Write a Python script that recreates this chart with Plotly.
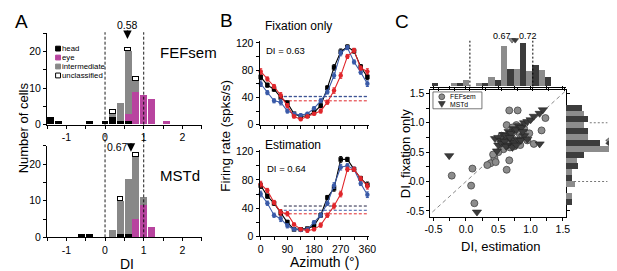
import plotly.graph_objects as go

W, H = 617, 271
FONT = "Liberation Sans, Arial, sans-serif"
MAG = "#b8449f"
GREY = "#888888"
BLUE = "#3a5aa8"
RED = "#e0262b"
LIGHT = "#8c8c8c"
DARK = "#3c3c3c"

# ---------------- Panel A data ----------------
bins = [-1.4, -1.2, -1.0, -0.8, -0.6, -0.4, -0.2, 0.0, 0.2, 0.4, 0.6, 0.8, 1.0, 1.2, 1.4, 1.6]
fef_head = [2, 1, 0, 0, 0, 1, 0, 1, 2, 1, 1, 0, 0, 0, 0, 0]
fef_eye = [0, 0, 0, 0, 0, 0, 0, 0, 0, 0, 2, 9, 8, 7, 0, 1]
fef_inter = [0, 0, 0, 0, 0, 0, 0, 0, 1, 5, 17, 3, 0, 0, 0, 0]
fef_uncl = [0, 0, 0, 0, 0, 0, 0, 0, 1, 0, 1, 1, 0, 0, 0, 0]
mst_head = [0, 0, 0, 0, 1, 1, 0, 0, 0, 1, 1, 0, 0, 0, 0, 0]
mst_eye = [0, 0, 0, 0, 0, 0, 0, 0, 0, 0, 0, 5, 9, 3, 0, 0]
mst_inter = [0, 0, 0, 0, 0, 0, 0, 0, 2, 9, 15, 17, 2, 0, 0, 0]
mst_uncl = [0, 0, 0, 0, 0, 0, 0, 0, 0, 1, 0, 1, 0, 0, 0, 0]
mean_fef_A = 0.58
mean_mst_A = 0.67

# ---------------- Panel B data ----------------
azimuth = [0, 22.5, 45, 67.5, 90, 112.5, 135, 157.5, 180, 202.5, 225, 247.5, 270, 292.5, 315, 337.5, 360]
fix_black = [70, 58, 52, 40, 32, 16, 12, 13, 18, 28, 54, 84, 107, 114, 108, 85, 70]
fix_blue = [60, 47, 35, 33, 20, 16, 14, 16, 24, 35, 48, 72, 105, 113, 92, 77, 60]
fix_red = [78, 67, 56, 43, 28, 12, 8, 12, 16, 20, 33, 50, 72, 100, 109, 83, 78]
est_black = [72, 57, 47, 33, 20, 10, 10, 11, 15, 30, 55, 68, 109, 109, 95, 82, 73]
est_blue = [60, 47, 30, 25, 15, 10, 9, 10, 20, 30, 47, 72, 98, 100, 95, 75, 59]
est_red = [74, 65, 48, 34, 32, 17, 10, 8, 10, 16, 30, 43, 60, 95, 95, 82, 71]
err_b = [4, 3, 3, 4, 3, 2, 2, 2, 2, 3, 3, 4, 4, 3, 3, 3, 4]
fix_base = {"black": 41.5, "blue": 41, "red": 35}
est_base = {"black": 43, "blue": 37, "red": 32}

# ---------------- Panel C data ----------------
fef_est = [0.67, 0.80, 0.63, 0.78, 1.23, 1.17, 1.05, 0.67, 0.63, 0.44, 0.38, 0.46, 0.33, 0.10, -0.22,
           0.08, 0.13, 0.55, 0.60, 0.70, 0.75, 0.85, 0.90, 0.95, 0.58, 0.65, 0.72, 0.80, 0.88, 0.50,
           0.42, 0.98, 0.68, 0.76, 0.84, 0.55]
fef_fix = [1.21, 1.21, 0.96, 0.96, 1.08, 0.87, 0.64, 0.36, 0.20, 0.40, 0.31, 0.33, 0.28, 0.22, 0.10,
           -0.07, -0.37, 0.62, 0.70, 0.80, 0.60, 0.75, 0.90, 0.70, 0.55, 0.65, 0.92, 0.85, 0.78, 0.50,
           0.46, 0.82, 0.58, 0.68, 0.62, 0.78]
mst_est = [-0.26, 0.17, 0.45, 0.50, 0.55, 0.58, 0.62, 0.66, 0.70, 0.74, 0.78, 0.82, 0.86, 0.90, 0.95,
           1.00, 1.05, 1.14, 1.19, 1.14, 0.50, 0.55, 0.60, 0.65, 0.70, 0.75, 0.80, 0.85, 0.90, 0.62,
           0.72, 0.68, 0.78, 0.88, 0.95, 0.48]
mst_fix = [0.44, -0.52, 0.73, 0.75, 0.70, 0.80, 0.78, 0.85, 0.82, 0.90, 0.88, 0.95, 0.92, 1.00, 1.02,
           1.05, 1.11, 1.16, 1.22, 0.64, 0.62, 0.65, 0.68, 0.62, 0.70, 0.66, 0.72, 0.70, 0.78, 0.60,
           0.58, 0.75, 0.62, 0.85, 0.72, 0.52]
top_light_x = [-0.25, -0.05, 0.15, 0.35, 0.55, 0.75, 0.95, 1.15]
top_light_n = [1, 2, 1, 3, 12.5, 5.5, 4.7, 5]
top_dark_x = [-0.55, -0.15, 0.25, 0.45, 0.65, 0.85, 1.05, 1.25]
top_dark_n = [1, 1, 1, 2, 5.5, 13.5, 6.7, 2.8]
right_light_y = [1.15, 0.95, 0.75, 0.55, 0.35, 0.15, -0.05, -0.25]
right_light_n = [5.6, 5.6, 6.6, 13.2, 3.3, 1.8, 2.7, 1.8]
right_dark_y = [1.25, 1.05, 0.85, 0.65, 0.45, 0.25, 0.05, -0.35]
right_dark_n = [4.8, 6.6, 6.6, 10.4, 5.6, 3.6, 1.8, 1.8]
top_means = [0.67, 0.72]
right_means = [0.70, 0.65]


def PX(p):
    return p / W


def PY(p):
    return 1 - p / H


# axis geometry (pixels)
A_X = (33.75, 191.75); A_XR = (-1.5, 2.5)
A1_Y = (117, 22); A2_Y = (234, 139); A_YR = (0, 25)
B_X = (250.8, 362.8); B_XR = (-4, 366)
B1_Y = (117, 29.9); B2_Y = (233, 142.8); B_YR = (0, 123)
C_X = (425.4, 564); C_XR = (-0.55, 1.55); CT_XR = (-0.627, 1.529)
C_Y = (212.6, 81.45); C_YR = (-0.6, 1.55)
CT_Y = (77.5, 27.5); CT_YR = (0, 15)
CR_X = (563.5, 613.5); CR_XR = (0, 15)


def xdom(p):
    return [PX(p[0]), PX(p[1])]


def ydom(p):
    return [PY(p[0]), PY(p[1])]


def mapx(v, pix, rng):
    return PX(pix[0] + (v - rng[0]) / (rng[1] - rng[0]) * (pix[1] - pix[0]))


fig = go.Figure()


def add_A(xa, ya, head, eye, inter, uncl):
    for vals, col in [(head, "black"), (eye, MAG), (inter, GREY)]:
        fig.add_trace(go.Bar(x=bins, y=vals, width=0.18, marker=dict(color=col, line=dict(width=0)),
                             xaxis=xa, yaxis=ya))
    fig.add_trace(go.Bar(x=bins, y=[v if v else None for v in uncl], width=0.15,
                         marker=dict(color="white", line=dict(color="black", width=1.1)),
                         xaxis=xa, yaxis=ya))


add_A("x", "y", fef_head, fef_eye, fef_inter, fef_uncl)
add_A("x2", "y2", mst_head, mst_eye, mst_inter, mst_uncl)


def add_B(xa, ya, series, base):
    for key, col in [("black", "#222244"), ("blue", BLUE), ("red", RED)]:
        fig.add_trace(go.Scatter(x=[78, 360], y=[base[key]] * 2, mode="lines",
                                 line=dict(color=col, width=1, dash="3px,2px"), xaxis=xa, yaxis=ya))
    for vals, col, sym in series:
        fig.add_trace(go.Scatter(x=azimuth, y=vals, mode="lines+markers",
                                 line=dict(color=col, width=1.1),
                                 marker=dict(color=col, size=4.5, symbol=sym),
                                 error_y=dict(type="data", array=err_b, color=col, thickness=1, width=1.5),
                                 xaxis=xa, yaxis=ya, cliponaxis=False))


add_B("x3", "y3", [(fix_black, "black", "square"), (fix_blue, BLUE, "circle"), (fix_red, RED, "circle")], fix_base)
add_B("x4", "y4", [(est_black, "black", "square"), (est_blue, BLUE, "circle"), (est_red, RED, "circle")], est_base)

# Panel C scatter
fig.add_trace(go.Scatter(x=[-0.6, 1.6], y=[-0.6, 1.6], mode="lines",
                         line=dict(color="#888888", width=1, dash="4px,3px"), xaxis="x5", yaxis="y5"))
fig.add_trace(go.Scatter(x=fef_est, y=fef_fix, mode="markers",
                         marker=dict(symbol="circle", size=7, color=LIGHT, line=dict(color="#444444", width=0.8)),
                         xaxis="x5", yaxis="y5"))
fig.add_trace(go.Scatter(x=mst_est, y=mst_fix, mode="markers",
                         marker=dict(symbol="triangle-down", size=8, color=DARK, line=dict(color="#222222", width=0.6)),
                         xaxis="x5", yaxis="y5"))
# top histogram
fig.add_trace(go.Bar(x=top_light_x, y=top_light_n, width=0.1, marker=dict(color=LIGHT, line=dict(width=0)),
                     xaxis="x6", yaxis="y6"))
fig.add_trace(go.Bar(x=top_dark_x, y=top_dark_n, width=0.1, marker=dict(color=DARK, line=dict(width=0)),
                     xaxis="x6", yaxis="y6"))
fig.add_trace(go.Scatter(x=top_means, y=[14.5, 14.5], mode="markers",
                         marker=dict(symbol="triangle-down", size=6, color=[LIGHT, DARK],
                                     line=dict(color="#222", width=0.5)),
                         xaxis="x6", yaxis="y6", cliponaxis=False))
# right histogram
fig.add_trace(go.Bar(y=right_light_y, x=right_light_n, width=0.1, orientation="h",
                     marker=dict(color=LIGHT, line=dict(width=0)), xaxis="x7", yaxis="y7"))
fig.add_trace(go.Bar(y=right_dark_y, x=right_dark_n, width=0.1, orientation="h",
                     marker=dict(color=DARK, line=dict(width=0)), xaxis="x7", yaxis="y7"))
fig.add_trace(go.Scatter(x=[13.2, 13.2], y=right_means, mode="markers",
                         marker=dict(symbol="triangle-left", size=6, color=[LIGHT, DARK],
                                     line=dict(color="#222", width=0.5)),
                         xaxis="x7", yaxis="y7", cliponaxis=False))

tickfont = dict(family=FONT, size=10.5, color="black")
base_ax = dict(showgrid=False, zeroline=False, showline=True, linecolor="black", linewidth=1,
               ticks="outside", ticklen=3, tickwidth=1, tickcolor="black", tickfont=tickfont, fixedrange=True)

halves = [-1.5, -1, -0.5, 0, 0.5, 1, 1.5, 2, 2.5]
halves_txt = ["", "-1", "", "0", "", "1", "", "2", ""]
yA_vals = [0, 5, 10, 15, 20, 25]
yA_txt = ["0", "", "10", "", "20", ""]
az_vals = [0, 45, 90, 135, 180, 225, 270, 315, 360]
az_txt = ["0", "", "90", "", "180", "", "270", "", "360"]
yB_vals = [0, 20, 40, 60, 80, 100, 120]
yB_txt = ["0", "", "40", "", "80", "", "120"]
c_vals = [-0.5, -0.25, 0, 0.25, 0.5, 0.75, 1.0, 1.25, 1.5]
c_txt = ["-0.5", "", "0.0", "", "0.5", "", "1.0", "", "1.5"]

layout = dict(
    width=W, height=H, margin=dict(l=0, r=0, t=0, b=0), paper_bgcolor="white", plot_bgcolor="rgba(0,0,0,0)",
    showlegend=False, barmode="stack", bargap=0, font=dict(family=FONT, color="black"),
    xaxis=dict(base_ax, domain=xdom(A_X), range=A_XR, anchor="y", tickvals=halves, ticktext=halves_txt),
    yaxis=dict(base_ax, domain=ydom(A1_Y), range=A_YR, anchor="x", tickvals=yA_vals, ticktext=yA_txt),
    xaxis2=dict(base_ax, domain=xdom(A_X), range=A_XR, anchor="y2", tickvals=halves, ticktext=halves_txt),
    yaxis2=dict(base_ax, domain=ydom(A2_Y), range=A_YR, anchor="x2", tickvals=yA_vals, ticktext=yA_txt),
    xaxis3=dict(base_ax, domain=xdom(B_X), range=B_XR, anchor="y3", tickvals=az_vals, ticktext=[""] * 9),
    yaxis3=dict(base_ax, domain=ydom(B1_Y), range=B_YR, anchor="x3", tickvals=yB_vals, ticktext=yB_txt),
    xaxis4=dict(base_ax, domain=xdom(B_X), range=B_XR, anchor="y4", tickvals=az_vals, ticktext=az_txt),
    yaxis4=dict(base_ax, domain=ydom(B2_Y), range=B_YR, anchor="x4", tickvals=yB_vals, ticktext=yB_txt),
    xaxis5=dict(base_ax, domain=xdom(C_X), range=C_XR, anchor="y5", tickvals=c_vals, ticktext=c_txt, mirror="ticks"),
    yaxis5=dict(base_ax, domain=ydom(C_Y), range=C_YR, anchor="x5", tickvals=c_vals, ticktext=c_txt, mirror="ticks"),
    xaxis6=dict(base_ax, domain=xdom(C_X), range=CT_XR, anchor="y6", tickvals=c_vals, showticklabels=False),
    yaxis6=dict(domain=ydom(CT_Y), range=CT_YR, anchor="x6", visible=False, fixedrange=True),
    xaxis7=dict(domain=xdom(CR_X), range=CR_XR, anchor="y7", visible=False, fixedrange=True),
    yaxis7=dict(domain=ydom(C_Y), range=C_YR, anchor="x7", visible=False, fixedrange=True),
)
fig.update_layout(**layout)

shapes = []
# Panel A dashed lines at DI = 0 and 1
for v in (0, 1):
    xp = mapx(v, A_X, A_XR)
    shapes.append(dict(type="line", xref="paper", yref="paper", x0=xp, x1=xp, y0=PY(117), y1=PY(21),
                       line=dict(color="black", width=0.9, dash="3px,2px")))
    shapes.append(dict(type="line", xref="paper", yref="paper", x0=xp, x1=xp, y0=PY(234), y1=PY(127),
                       line=dict(color="black", width=0.9, dash="3px,2px")))
# Panel C top histogram dotted lines
for v in (0, 1):
    shapes.append(dict(type="line", xref="x6", yref="y6", x0=v, x1=v, y0=0, y1=14.3,
                       line=dict(color="black", width=1, dash="2px,2px")))
# right histogram dotted lines
shapes.append(dict(type="line", xref="x7", yref="y7", x0=7.4, x1=12.8, y0=1.0, y1=1.0,
                   line=dict(color="#777", width=1, dash="2px,2px")))
shapes.append(dict(type="line", xref="x7", yref="y7", x0=2.6, x1=12.8, y0=0.0, y1=0.0,
                   line=dict(color="#777", width=1, dash="2px,2px")))
# Panel A legend boxes
leg_cols = [("black", "black"), (MAG, MAG), (GREY, GREY), ("white", "black")]
leg_txt = ["head", "eye", "intermediate", "unclassified"]
LEG_Y0, LEG_DY = 38, 9.3
for i, (fc, lc) in enumerate(leg_cols):
    yc = LEG_Y0 + LEG_DY * i
    shapes.append(dict(type="rect", xref="paper", yref="paper", x0=PX(42.5), x1=PX(47.5),
                       y0=PY(yc + 2.5), y1=PY(yc - 2.5), fillcolor=fc, line=dict(color=lc, width=1)))
# Panel C legend
shapes.append(dict(type="rect", xref="paper", yref="paper", x0=PX(428), x1=PX(478), y0=PY(100.5), y1=PY(83),
                   line=dict(color="#555", width=0.8), fillcolor="rgba(0,0,0,0)"))
shapes.append(dict(type="circle", xref="paper", yref="paper", x0=PX(434), x1=PX(440), y0=PY(91), y1=PY(85),
                   fillcolor=LIGHT, line=dict(color="#444", width=0.8)))
shapes.append(dict(type="path", xref="paper", yref="paper",
                   path=f"M {PX(433.5)},{PY(93)} L {PX(440.5)},{PY(93)} L {PX(437)},{PY(99)} Z",
                   fillcolor=DARK, line=dict(color="#222", width=0.6)))
fig.update_layout(shapes=shapes)

ann = []


def T(text, x, y, size, angle=0, xanchor="center", color="black"):
    ann.append(dict(text=text, x=PX(x), y=PY(y), xref="paper", yref="paper", showarrow=False,
                    font=dict(family=FONT, size=size, color=color), textangle=angle,
                    xanchor=xanchor, yanchor="middle", borderpad=0))


T("A", 8, 10, 19)
T("B", 217, 9, 19)
T("C", 396, 10, 19)
T("Number of cells", 10, 120, 13, -90)
T("DI", 115, 262, 14)
T("FEFsem", 178, 42, 15)
T("MSTd", 170, 170, 15)
for i, t in enumerate(leg_txt):
    T(t, 48, LEG_Y0 + LEG_DY * i, 7.8, xanchor="left")
T("0.58", 116, 14, 10.5)
T("0.67", 106, 140, 10.5)
T("Fixation only", 291, 15, 12)
T("Estimation", 285, 138, 12)
T("DI = 0.63", 277, 40, 9.5)
T("DI = 0.64", 278, 162, 9.5)
T("Firing rate (spks/s)", 216, 128, 13.5, -90)
T("Azimuth (°)", 317, 260, 14)
T("DI, estimation", 497, 243, 13)
T("DI, fixation only", 400, 147, 13, -90)
T("FEFsem", 444, 88, 6.8, xanchor="left")
T("MSTd", 444, 96, 6.8, xanchor="left")
T("0.67", 499, 25, 9)
T("0.72", 525, 25, 9)
T("0.70", 612, 113.5, 9, 90)
T("0.65", 612, 154, 9, 90)

# mean arrows, panel A
for xa, ya, m in [("x", "y", mean_fef_A), ("x2", "y2", mean_mst_A)]:
    ann.append(dict(x=m, y=23.4, xref=xa, yref=ya, ax=0, ay=-10, showarrow=True, text="",
                    arrowhead=2, arrowsize=1.3, arrowwidth=1.3, arrowcolor="black", standoff=0))
fig.update_layout(annotations=ann)

fig.write_html("out.html")
